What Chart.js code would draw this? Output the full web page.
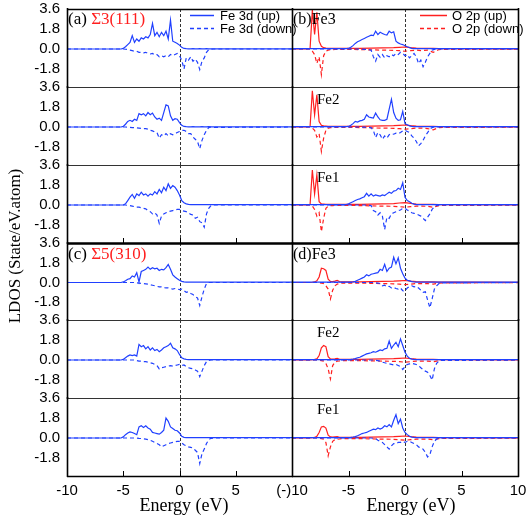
<!DOCTYPE html>
<html>
<head>
<meta charset="utf-8">
<script src="https://cdn.jsdelivr.net/npm/chart.js@4.4.0/dist/chart.umd.min.js"></script>
<style>
  body { margin: 0; background: #fff; }
  #fig { position: relative; width: 529px; height: 517px; overflow: hidden; background: #fff; }
  #fig canvas { position: absolute; }
  .lbl { position: absolute; font-family: "Liberation Serif", "Times New Roman", serif; white-space: nowrap; line-height: 1; color: #000; }
  .red { color: #ff1f1f; }
  .leg { position: absolute; font-family: "Liberation Sans", Arial, sans-serif; font-size: 13px; line-height: 1; white-space: nowrap; }
</style>
</head>
<body>
<div id="fig">
  <svg width="529" height="517" style="position:absolute;left:0;top:0;z-index:5">
    <line x1="190" y1="15.5" x2="214" y2="15.5" stroke="#2040ff" stroke-width="1.5"/>
    <line x1="190" y1="28.5" x2="214" y2="28.5" stroke="#2040ff" stroke-width="1.5" stroke-dasharray="4 3"/>
    <line x1="420" y1="15.5" x2="447" y2="15.5" stroke="#ff1f1f" stroke-width="1.5"/>
    <line x1="420" y1="28.5" x2="447" y2="28.5" stroke="#ff1f1f" stroke-width="1.5" stroke-dasharray="4 3"/>
  </svg>
  <div class="leg" style="left:220px;top:9px;z-index:6">Fe 3d (up)</div>
  <div class="leg" style="left:220px;top:22px;z-index:6">Fe 3d (down)</div>
  <div class="leg" style="left:452px;top:9px;z-index:6">O 2p (up)</div>
  <div class="leg" style="left:452px;top:22px;z-index:6">O 2p (down)</div>

  <div class="lbl" style="left:68px;top:10px;font-size:17px;z-index:6">(a) <span class="red">Σ3(111)</span></div>
  <div class="lbl" style="left:293px;top:11px;font-size:16px;z-index:6">(b)Fe3</div>
  <div class="lbl" style="left:317px;top:92px;font-size:15px;z-index:6">Fe2</div>
  <div class="lbl" style="left:317px;top:170px;font-size:15px;z-index:6">Fe1</div>
  <div class="lbl" style="left:68px;top:245px;font-size:17px;z-index:6">(c) <span class="red">Σ5(310)</span></div>
  <div class="lbl" style="left:293px;top:246px;font-size:16px;z-index:6">(d)Fe3</div>
  <div class="lbl" style="left:317px;top:325px;font-size:15px;z-index:6">Fe2</div>
  <div class="lbl" style="left:317px;top:402px;font-size:15px;z-index:6">Fe1</div>

  <div class="lbl" style="left:14px;top:246px;font-size:17px;transform:translate(-50%,-50%) rotate(-90deg);z-index:6">LDOS (State/eV.atom)</div>
  <div class="lbl" style="left:184px;top:496px;font-size:18px;transform:translateX(-50%);z-index:6">Energy (eV)</div>
  <div class="lbl" style="left:411px;top:496px;font-size:18px;transform:translateX(-50%);z-index:6">Energy (eV)</div>
</div>
<script>
// energy grids (eV)
const eL = [-10, -5.6, -5.4, -5.2,
  -5.0, -4.8, -4.6, -4.4, -4.2,
  -4.0, -3.8, -3.6, -3.4, -3.2,
  -3.0, -2.8, -2.6, -2.4, -2.2,
  -2.0, -1.8, -1.6, -1.4, -1.2,
  -1.0, -0.8, -0.6, -0.4, -0.2,
  0.0, 0.2, 0.4, 0.6, 0.8,
  1.0, 1.2, 1.4, 1.6, 1.8,
  2.0, 2.2, 2.4, 2.6, 2.8,
  3.0, 3.2, 10];
const eO = [-10, -9.0, -8.8, -8.6, -8.4,
  -8.2, -8.0, -7.8, -7.6, -7.4,
  -7.2, -7.0, -6.8, -6.6, -6.4,
  -6.2, -6.0, -5.8, -5.6, -5.4,
  -5.2, -5.0, -4.0, -3.0, -2.0,
  -1.0, -0.5, 0.0, 0.5, 1.0,
  1.5, 2.0, 2.5, 3.0, 4.0, 10];

const X_TICKS = [-10, -5, 0, 5, 10];
const Y_TICKS = [3.6, 1.8, 0, -1.8];

// (a) Sigma3(111), Fe 3d
const a3Up = [0, 0, 0, 0,
  0.05, 0.2, 0.4, 0.6, 1.2,
  0.6, 0.9, 0.7, 1.0, 0.9,
  1.1, 1.0, 1.3, 2.3, 1.2,
  1.5, 1.1, 1.5, 1.2, 1.6,
  0.9, 2.6, 0.7, 0.6, 0.5,
  0.35, 0.15, 0.05, 0.03, 0.02,
  0.02, 0.03, 0.02, 0.02, 0.03,
  0.02, 0.02, 0.03, 0.02, 0.02,
  0.02, 0.02, 0.02];
const a3Dn = [0, 0, 0, 0,
  0, -0.02, -0.05, -0.1, -0.15,
  -0.2, -0.2, -0.3, -0.3, -0.35,
  -0.3, -0.4, -0.45, -0.4, -0.55,
  -0.5, -0.7, -0.6, -0.7, -0.6,
  -0.7, -0.5, -0.6, -0.5, -0.4,
  -0.6, -1.0, -1.8, -0.8, -1.0,
  -0.7, -1.1, -0.9, -1.2, -1.85,
  -1.1, -0.8, -0.3, -0.05, -0.02,
  0, 0, 0];
const a2Up = [0, 0, 0, 0,
  0.05, 0.25, 0.5, 0.6, 0.5,
  0.7, 0.6, 1.2, 1.1, 1.2,
  1.0, 1.3, 1.1, 1.25, 0.9,
  0.7, 0.8, 0.6, 1.3, 2.0,
  1.9, 1.0, 0.6, 0.75, 0.7,
  0.4, 0.15, 0.05, 0.03, 0.02,
  0.02, 0.03, 0.02, 0.02, 0.02,
  0.03, 0.02, 0.02, 0.03, 0.02,
  0.02, 0.02, 0.02];
const a2Dn = [0, 0, 0, 0,
  0, 0, -0.02, -0.03, -0.05,
  -0.05, -0.08, -0.1, -0.12, -0.15,
  -0.15, -0.2, -0.3, -0.35, -0.45,
  -0.5, -1.0, -0.7, -0.8, -0.6,
  -0.8, -0.6, -0.7, -0.6, -0.5,
  -0.4, -0.3, -0.3, -0.4, -0.6,
  -0.6, -0.9, -1.1, -1.3, -1.95,
  -1.2, -0.7, -0.3, -0.05, 0,
  -0.05, -0.03, 0];
const a1Up = [0, 0, 0, 0,
  0, 0.1, 0.4, 0.7, 0.95,
  0.6, 1.0, 0.85, 1.15, 0.9,
  1.0, 0.8, 1.0, 0.9, 1.2,
  1.0, 1.4, 1.1, 1.6, 1.3,
  1.9, 1.5, 1.75, 1.6, 1.3,
  0.9, 0.4, 0.2, 0.1, 0.05,
  0.03, 0.03, 0.04, 0.03, 0.03,
  0.03, 0.04, 0.03, 0.03, 0.03,
  0.03, 0.03, 0.03];
const a1Dn = [0, 0, 0, 0,
  0, 0, -0.03, -0.05, -0.1,
  -0.15, -0.2, -0.2, -0.25, -0.3,
  -0.35, -0.5, -0.6, -0.8, -0.7,
  -0.9, -1.65, -1.0, -0.8, -0.7,
  -0.6, -0.55, -0.5, -0.45, -0.4,
  -0.4, -0.5, -0.55, -0.6, -0.7,
  -0.85, -0.9, -1.2, -1.1, -1.5,
  -1.6, -2.0, -0.8, -0.3, -0.05,
  0, 0, 0];

// (c) Sigma5(310), Fe 3d
const c3Up = [0, 0, 0, 0,
  0.05, 0.15, 0.3, 0.35, 0.6,
  0.5, 0.9, 0.05, 1.0, 1.1,
  1.2, 1.4, 1.2, 1.35, 1.25,
  1.3, 1.1, 1.2, 1.15, 1.35,
  1.65, 1.2, 0.7, 0.5, 0.35,
  0.2, 0.1, 0.05, 0.03, 0.03,
  0.03, 0.03, 0.03, 0.03, 0.03,
  0.03, 0.03, 0.03, 0.03, 0.03,
  0.03, 0.03, 0.03];
const c3Dn = [0, 0, 0, 0,
  0, 0, 0, 0, 0,
  0, -0.03, -0.05, -0.08, -0.1,
  -0.12, -0.15, -0.2, -0.25, -0.3,
  -0.35, -0.4, -0.4, -0.45, -0.5,
  -0.5, -0.55, -0.6, -0.55, -0.6,
  -0.65, -0.6, -0.75, -0.9, -0.85,
  -1.0, -1.1, -1.3, -1.4, -2.1,
  -1.3, -0.6, -0.1, 0, 0,
  0, 0, 0];
const c2Up = [0, 0, 0, 0,
  0.05, 0.2, 0.35, 0.45, 0.4,
  0.45, 0.35, 1.4, 1.2, 1.3,
  1.0, 1.2, 0.9, 1.1, 0.85,
  0.95, 0.75, 0.9, 1.1, 1.2,
  1.3, 1.5, 1.1, 1.0, 0.85,
  0.5, 0.2, 0.1, 0.05, 0.03,
  0.03, 0.03, 0.03, 0.03, 0.03,
  0.03, 0.03, 0.03, 0.03, 0.03,
  0.03, 0.03, 0.03];
const c2Dn = [0, 0, 0, 0,
  0, 0, 0, 0, 0,
  0, -0.05, -0.1, -0.1, -0.15,
  -0.15, -0.2, -0.25, -0.3, -0.4,
  -0.5, -0.8, -0.7, -0.65, -0.6,
  -0.55, -0.5, -0.55, -0.5, -0.45,
  -0.4, -0.5, -0.45, -0.6, -0.7,
  -0.75, -0.8, -0.9, -1.0, -1.5,
  -1.0, -0.5, -0.15, -0.03, 0,
  0, 0, 0];
const c1Up = [0, 0, 0, 0,
  0.1, 0.3, 0.45, 0.55, 0.5,
  0.4, 0.3, 1.0, 1.1, 0.95,
  1.1, 0.9, 0.8, 0.5, 0.45,
  0.4, 0.35, 0.5, 0.7, 1.8,
  1.5, 1.0, 0.85, 0.7, 0.65,
  0.45, 0.15, 0.06, 0.04, 0.03,
  0.03, 0.03, 0.03, 0.03, 0.03,
  0.03, 0.03, 0.03, 0.03, 0.03,
  0.03, 0.03, 0.03];
const c1Dn = [0, 0, 0, 0,
  0, 0, 0, 0, 0,
  0, 0, -0.03, -0.05, -0.08,
  -0.1, -0.15, -0.2, -0.3, -0.4,
  -0.5, -0.6, -0.8, -0.7, -0.6,
  -0.5, -0.45, -0.4, -0.35, -0.3,
  -0.3, -0.45, -0.6, -0.7, -0.8,
  -0.85, -0.9, -1.1, -1.3, -2.3,
  -1.4, -1.0, -0.5, -0.15, -0.03,
  0, 0, 0];

// (b) Sigma3(111) Fe3/Fe2/Fe1, Fe 3d part
const b3FeUp = [0.03, 0.03, 0.03, 0.03,
  0.05, 0.15, 0.3, 0.5, 0.65,
  0.75, 0.85, 0.95, 1.05, 1.15,
  1.25, 1.2, 1.6, 1.3, 1.5,
  1.4, 1.3, 1.25, 1.6, 1.45,
  1.55, 0.7, 0.55, 0.45, 0.4,
  0.3, 0.2, 0.12, 0.06, 0.04,
  0.03, 0.03, 0.03, 0.03, 0.03,
  0.03, 0.03, 0.03, 0.03, 0.03,
  0.03, 0.03, 0.03];
const b3FeDn = [0, 0, 0, 0,
  0, 0, 0, 0, 0,
  -0.02, -0.02, -0.03, -0.03, -0.05,
  -0.1, -0.7, -1.1, -0.5, -0.75,
  -0.5, -0.8, -0.6, -0.7, -0.5,
  -0.6, -0.4, -0.5, -0.3, -0.4,
  -0.6, -0.5, -0.8, -0.6, -0.4,
  -0.7, -1.3, -1.0, -1.6, -1.2,
  -0.7, -0.4, -0.1, -0.03, 0,
  0, 0, 0];
const b2FeUp = [0.03, 0.03, 0.03, 0.03,
  0.05, 0.15, 0.3, 0.5, 0.45,
  0.55, 0.6, 0.7, 1.1, 0.9,
  0.85, 0.8, 1.25, 0.9, 0.65,
  0.6, 0.6, 0.7, 1.6, 2.5,
  1.3, 0.8, 0.6, 0.65, 1.4,
  0.3, 0.2, 0.1, 0.05, 0.04,
  0.03, 0.03, 0.03, 0.03, 0.03,
  0.03, 0.03, 0.03, 0.03, 0.03,
  0.03, 0.03, 0.03];
const b2FeDn = [0, 0, 0, 0,
  0, 0, 0, 0, 0,
  0, -0.02, -0.02, -0.03, -0.04,
  -0.05, -0.3, -0.95, -0.5, -0.7,
  -1.1, -0.8, -1.0, -0.7, -0.6,
  -0.65, -0.55, -0.6, -0.5, -0.35,
  -0.3, -0.4, -0.5, -0.8, -1.0,
  -1.3, -1.7, -1.5, -1.2, -0.8,
  -0.5, -0.2, -0.05, 0, 0,
  0, 0, 0];
const b1FeUp = [0.03, 0.03, 0.03, 0.03,
  0.1, 0.2, 0.3, 0.4, 0.5,
  0.55, 0.65, 0.75, 1.05, 0.8,
  1.0, 0.8, 0.9, 0.85, 0.8,
  0.9, 0.85, 1.0, 1.15, 1.05,
  1.25, 1.3, 1.5, 1.4, 2.0,
  0.7, 0.4, 0.3, 0.15, 0.08,
  0.04, 0.04, 0.04, 0.04, 0.04,
  0.04, 0.04, 0.04, 0.04, 0.04,
  0.04, 0.04, 0.04];
const b1FeDn = [0, 0, 0, 0,
  0, 0, 0, 0, 0,
  0, 0, 0, -0.02, -0.03,
  -0.05, -0.5, -0.6, -0.9, -0.7,
  -1.0, -2.2, -1.1, -1.2, -0.8,
  -0.7, -0.6, -0.5, -0.45, -0.3,
  -0.3, -0.45, -0.55, -0.7, -0.75,
  -0.8, -0.9, -1.0, -1.2, -1.4,
  -1.1, -0.8, -0.4, -0.15, -0.05,
  0, 0, 0];

// (d) Sigma5(310) Fe3/Fe2/Fe1, Fe 3d part
const d3FeUp = [0.03, 0.03, 0.03, 0.03,
  0.03, 0.04, 0.05, 0.1, 0.2,
  0.3, 0.4, 0.5, 0.7, 0.6,
  0.75, 0.8, 0.85, 0.9, 1.2,
  1.1, 1.65, 1.0, 1.3, 1.4,
  2.3, 1.7, 2.25, 1.3, 0.8,
  0.4, 0.2, 0.15, 0.08, 0.05,
  0.04, 0.04, 0.04, 0.04, 0.04,
  0.04, 0.04, 0.04, 0.04, 0.04,
  0.04, 0.04, 0.04];
const d3FeDn = [0, 0, 0, 0,
  0, 0, 0, 0, 0,
  0, 0, 0, 0, 0,
  0, 0, -0.03, -0.05, -0.1,
  -0.3, -0.25, -0.4, -0.35, -0.5,
  -0.45, -0.55, -0.6, -0.5, -0.75,
  -0.8, -0.5, -0.35, -0.3, -0.4,
  -0.35, -0.5, -0.7, -0.9, -0.85,
  -1.6, -2.3, -1.5, -0.6, -0.3,
  -0.1, -0.04, 0];
const d2FeUp = [0.03, 0.03, 0.03, 0.03,
  0.03, 0.05, 0.08, 0.12, 0.2,
  0.25, 0.35, 0.45, 0.55, 0.6,
  0.65, 0.75, 0.7, 0.8, 0.9,
  0.85, 1.0, 1.05, 1.7, 1.05,
  1.35, 1.6, 1.2, 1.9, 1.3,
  0.7, 0.35, 0.15, 0.08, 0.05,
  0.04, 0.04, 0.04, 0.04, 0.04,
  0.04, 0.04, 0.04, 0.04, 0.04,
  0.04, 0.04, 0.04];
const d2FeDn = [0, 0, 0, 0,
  0, 0, 0, 0, 0,
  0, 0, 0, 0, 0,
  0, 0, -0.03, -0.05, -0.1,
  -0.2, -0.25, -0.3, -0.35, -0.4,
  -0.45, -0.4, -0.5, -0.6, -0.85,
  -0.6, -0.4, -0.35, -0.3, -0.35,
  -0.4, -0.5, -0.7, -0.85, -1.0,
  -1.1, -1.4, -1.8, -0.8, -0.3,
  -0.1, -0.04, 0];
const d1FeUp = [0.03, 0.03, 0.03, 0.03,
  0.03, 0.05, 0.08, 0.12, 0.2,
  0.3, 0.4, 0.45, 0.5, 0.6,
  0.7, 0.8, 0.75, 0.9, 0.8,
  0.9, 1.1, 1.0, 1.2, 1.0,
  1.6, 2.1, 1.3, 1.7, 0.9,
  0.5, 0.3, 0.15, 0.08, 0.05,
  0.04, 0.04, 0.04, 0.04, 0.04,
  0.04, 0.04, 0.04, 0.04, 0.04,
  0.04, 0.04, 0.04];
const d1FeDn = [0, 0, 0, 0,
  0, 0, 0, 0, 0,
  0, 0, 0, 0, 0,
  0, -0.03, -0.05, -0.2, -0.3,
  -0.4, -0.6, -0.8, -1.0, -0.7,
  -0.5, -0.5, -0.4, -0.4, -0.3,
  -0.4, -0.3, -0.3, -0.4, -0.5,
  -0.6, -0.8, -0.9, -1.0, -1.3,
  -1.7, -1.5, -0.8, -0.3, -0.1,
  -0.03, 0, 0];

// O 2p part (on eO grid)
const b3OUp = [0, 0, 0, 0, 0.05,
  3.5, 1.3, 3.3, 0.7, 0.25,
  0.12, 0.08, 0.06, 0.05, 0.05,
  0.05, 0.05, 0.05, 0.05, 0.05,
  0.05, 0.05, 0.06, 0.08, 0.1,
  0.12, 0.15, 0.18, 0.12, 0.08,
  0.06, 0.05, 0.05, 0.04, 0.03, 0.02];
const b3ODn = [0, 0, 0, 0, 0,
  -0.2, -0.5, -1.3, -0.7, -2.3,
  -0.6, -0.2, -0.1, -0.05, -0.05,
  -0.04, -0.04, -0.04, -0.04, -0.04,
  -0.04, -0.04, -0.05, -0.08, -0.1,
  -0.12, -0.15, -0.2, -0.15, -0.1,
  -0.15, -0.1, -0.3, -0.05, -0.03, -0.02];
const b2OUp = [0, 0, 0, 0, 0.05,
  3.25, 1.1, 2.9, 0.5, 0.15,
  0.1, 0.08, 0.06, 0.05, 0.05,
  0.05, 0.05, 0.05, 0.05, 0.05,
  0.05, 0.05, 0.06, 0.08, 0.1,
  0.12, 0.15, 0.18, 0.12, 0.08,
  0.06, 0.05, 0.05, 0.04, 0.03, 0.02];
const b2ODn = [0, 0, 0, 0, 0,
  -0.1, -0.3, -0.9, -0.6, -2.2,
  -1.0, -0.3, -0.1, -0.05, -0.05,
  -0.04, -0.04, -0.04, -0.04, -0.04,
  -0.04, -0.04, -0.05, -0.08, -0.1,
  -0.12, -0.15, -0.2, -0.15, -0.1,
  -0.1, -0.15, -0.25, -0.05, -0.03, -0.02];
const b1OUp = [0, 0, 0, 0, 0.05,
  3.15, 1.0, 2.7, 0.3, 0.1,
  0.08, 0.06, 0.05, 0.05, 0.05,
  0.05, 0.05, 0.05, 0.05, 0.05,
  0.05, 0.05, 0.06, 0.08, 0.1,
  0.12, 0.18, 0.22, 0.15, 0.08,
  0.06, 0.05, 0.05, 0.04, 0.03, 0.02];
const b1ODn = [0, 0, 0, 0, 0,
  -0.1, -0.4, -1.0, -0.7, -2.4,
  -1.2, -0.3, -0.1, -0.05, -0.05,
  -0.04, -0.04, -0.04, -0.04, -0.04,
  -0.04, -0.04, -0.05, -0.08, -0.1,
  -0.12, -0.15, -0.2, -0.15, -0.1,
  -0.1, -0.12, -0.2, -0.05, -0.03, -0.02];
const d3OUp = [0, 0, 0, 0, 0,
  0.02, 0.05, 0.15, 0.5, 1.3,
  1.25, 1.1, 0.3, 0.1, 0.08,
  0.12, 0.2, 0.08, 0.05, 0.05,
  0.05, 0.05, 0.06, 0.08, 0.1,
  0.12, 0.15, 0.18, 0.12, 0.08,
  0.06, 0.05, 0.05, 0.04, 0.03, 0.02];
const d3ODn = [0, 0, 0, 0, 0,
  0, 0, 0, -0.02, -0.05,
  -0.1, -0.3, -0.6, -1.5, -0.7,
  -0.3, -0.15, -0.1, -0.05, -0.05,
  -0.05, -0.05, -0.05, -0.08, -0.1,
  -0.12, -0.15, -0.2, -0.15, -0.1,
  -0.1, -0.1, -0.15, -0.05, -0.03, -0.02];
const d2OUp = [0, 0, 0, 0, 0,
  0.02, 0.05, 0.1, 0.4, 1.1,
  1.3, 1.2, 0.3, 0.1, 0.08,
  0.1, 0.15, 0.06, 0.05, 0.05,
  0.05, 0.05, 0.06, 0.08, 0.1,
  0.12, 0.15, 0.18, 0.12, 0.08,
  0.06, 0.05, 0.05, 0.04, 0.03, 0.02];
const d2ODn = [0, 0, 0, 0, 0,
  0, 0, 0, -0.02, -0.05,
  -0.1, -0.3, -0.8, -1.7, -0.5,
  -0.2, -0.1, -0.08, -0.05, -0.05,
  -0.05, -0.05, -0.05, -0.08, -0.1,
  -0.12, -0.15, -0.2, -0.15, -0.1,
  -0.1, -0.1, -0.15, -0.05, -0.03, -0.02];
const d1OUp = [0, 0, 0, 0, 0,
  0.02, 0.05, 0.15, 0.5, 1.0,
  1.05, 0.9, 0.25, 0.1, 0.08,
  0.1, 0.12, 0.06, 0.05, 0.05,
  0.05, 0.05, 0.06, 0.08, 0.1,
  0.12, 0.15, 0.18, 0.12, 0.08,
  0.06, 0.05, 0.05, 0.04, 0.03, 0.02];
const d1ODn = [0, 0, 0, 0, 0,
  0, 0, 0, -0.02, -0.05,
  -0.1, -0.4, -1.6, -0.8, -0.3,
  -0.15, -0.1, -0.08, -0.05, -0.05,
  -0.05, -0.05, -0.05, -0.08, -0.1,
  -0.12, -0.15, -0.2, -0.15, -0.1,
  -0.1, -0.1, -0.15, -0.05, -0.03, -0.02];

const BLUE = '#2040ff';
const RED = '#ff1f1f';

// layout of the 2 x 6 panels
const COL_X = [67, 292];
const COL_W = [225, 226];
const ROW_Y = [9, 87, 165, 243, 320, 398];
const ROW_H = [78, 78, 78, 77, 78, 78];
const PAD = 22;

const panels = [
  { col: 0, row: 0, fe: [a3Up, a3Dn] },
  { col: 0, row: 1, fe: [a2Up, a2Dn] },
  { col: 0, row: 2, fe: [a1Up, a1Dn] },
  { col: 0, row: 3, fe: [c3Up, c3Dn] },
  { col: 0, row: 4, fe: [c2Up, c2Dn] },
  { col: 0, row: 5, fe: [c1Up, c1Dn] },
  { col: 1, row: 0, fe: [b3FeUp, b3FeDn], o: [b3OUp, b3ODn] },
  { col: 1, row: 1, fe: [b2FeUp, b2FeDn], o: [b2OUp, b2ODn] },
  { col: 1, row: 2, fe: [b1FeUp, b1FeDn], o: [b1OUp, b1ODn] },
  { col: 1, row: 3, fe: [d3FeUp, d3FeDn], o: [d3OUp, d3ODn] },
  { col: 1, row: 4, fe: [d2FeUp, d2FeDn], o: [d2OUp, d2ODn] },
  { col: 1, row: 5, fe: [d1FeUp, d1FeDn], o: [d1OUp, d1ODn] },
];

function pts(grid, vals) {
  return grid.map((x, i) => ({ x: x, y: vals[i] }));
}

function line(ctx, x1, y1, x2, y2, w, c) {
  ctx.lineWidth = w;
  ctx.strokeStyle = c;
  ctx.beginPath();
  ctx.moveTo(x1, y1);
  ctx.lineTo(x2, y2);
  ctx.stroke();
}

// frame, dashed Fermi level and inner ticks
const framePlugin = {
  id: 'frame',
  beforeDatasetsDraw(chart) {
    const { ctx, chartArea: a, scales } = chart;
    const px = Math.round(scales.x.getPixelForValue(0)) + 0.5;
    ctx.save();
    ctx.setLineDash([3, 2]);
    line(ctx, px, a.top, px, a.bottom, 1, '#333');
    ctx.restore();
  },
  afterDraw(chart, args, opts) {
    const { ctx, chartArea: a, scales } = chart;
    const L = a.left + 0.5, R = a.right + 0.5, T = a.top + 0.5, B = a.bottom + 0.5;
    ctx.save();
    ctx.strokeStyle = '#333';
    ctx.lineWidth = 1;
    ctx.strokeRect(L, T, R - L, B - T);
    if (opts.col === 0) line(ctx, L, a.top - 1, L, a.bottom + 1, 1.6, '#000');
    line(ctx, R, a.top - 1, R, a.bottom + 1, 1.6, '#000');
    if (opts.row === 0) line(ctx, a.left, T, a.right + 1, T, 1.6, '#000');
    if (opts.row === 5) line(ctx, a.left, B, a.right + 1, B, 1.6, '#000');
    if (opts.row === 2) line(ctx, a.left, a.bottom + 0.5, a.right + 1, a.bottom + 0.5, 2, '#000');
    if (opts.row === 3) line(ctx, a.left, a.top + 0.5, a.right + 1, a.top + 0.5, 2, '#000');
    if (opts.row === 2 || opts.row === 5) {
      [-5, 0, 5].forEach(v => {
        const x = Math.round(scales.x.getPixelForValue(v)) + 0.5;
        line(ctx, x, a.bottom, x, a.bottom - 5, 1, '#000');
      });
    }
    ctx.restore();
  }
};

const fig = document.getElementById('fig');

panels.forEach(p => {
  const bottomRow = p.row === 5;
  const padTop = PAD;
  const xAxisH = bottomRow ? 30 : 0;
  const padBottom = bottomRow ? 0 : PAD;
  const padLeft = p.col === 0 ? 0 : PAD;
  const padRight = p.col === 0 ? 35 : PAD;
  const yAxisW = p.col === 0 ? COL_X[0] : 0;

  const cv = document.createElement('canvas');
  const left = p.col === 0 ? 0 : COL_X[1] - padLeft;
  const width = padLeft + yAxisW + COL_W[p.col] + padRight;
  const height = padTop + ROW_H[p.row] + xAxisH + padBottom;
  cv.width = width;
  cv.height = height;
  cv.style.left = left + 'px';
  cv.style.top = (ROW_Y[p.row] - padTop) + 'px';
  cv.style.width = width + 'px';
  cv.style.height = height + 'px';
  fig.insertBefore(cv, fig.firstChild);

  const datasets = [
    { data: pts(eL, p.fe[0]), borderColor: BLUE },
    { data: pts(eL, p.fe[1]), borderColor: BLUE, borderDash: [4, 3] },
  ];
  if (p.o) {
    datasets.push({ data: pts(eO, p.o[0]), borderColor: RED });
    datasets.push({ data: pts(eO, p.o[1]), borderColor: RED, borderDash: [4, 3] });
  }
  datasets.forEach(d => { d.borderWidth = 1.2; d.pointRadius = 0; d.fill = false; d.tension = 0; });

  new Chart(cv, {
    type: 'line',
    data: { datasets: datasets },
    plugins: [framePlugin],
    options: {
      responsive: false,
      animation: false,
      events: [],
      devicePixelRatio: 1,
      layout: { autoPadding: false, padding: { top: padTop, bottom: padBottom, left: padLeft, right: padRight } },
      plugins: {
        legend: { display: false },
        tooltip: { enabled: false },
        frame: { col: p.col, row: p.row }
      },
      scales: {
        x: {
          type: 'linear',
          min: -10,
          max: 10,
          display: bottomRow,
          afterFit: s => { s.height = xAxisH; },
          afterBuildTicks: s => { s.ticks = X_TICKS.map(v => ({ value: v })); },
          grid: { display: false, drawTicks: false },
          border: { display: false },
          ticks: {
            autoSkip: false,
            maxRotation: 0,
            minRotation: 0,
            padding: 6,
            color: '#000',
            font: { family: 'Liberation Sans', size: 15 },
            callback: v => {
              if (p.col === 0) return v === 10 ? '(-)10' : String(v);
              return v === -10 ? '' : String(v);
            }
          }
        },
        y: {
          type: 'linear',
          min: -3.42,
          max: 3.6,
          display: p.col === 0,
          afterFit: s => { s.width = yAxisW; },
          afterBuildTicks: s => { s.ticks = Y_TICKS.map(v => ({ value: v })); },
          grid: { display: false, drawTicks: false },
          border: { display: false },
          ticks: {
            padding: 7,
            color: '#000',
            font: { family: 'Liberation Sans', size: 15 },
            callback: v => v.toFixed(1)
          }
        }
      }
    }
  });
});
</script>
</body>
</html>
